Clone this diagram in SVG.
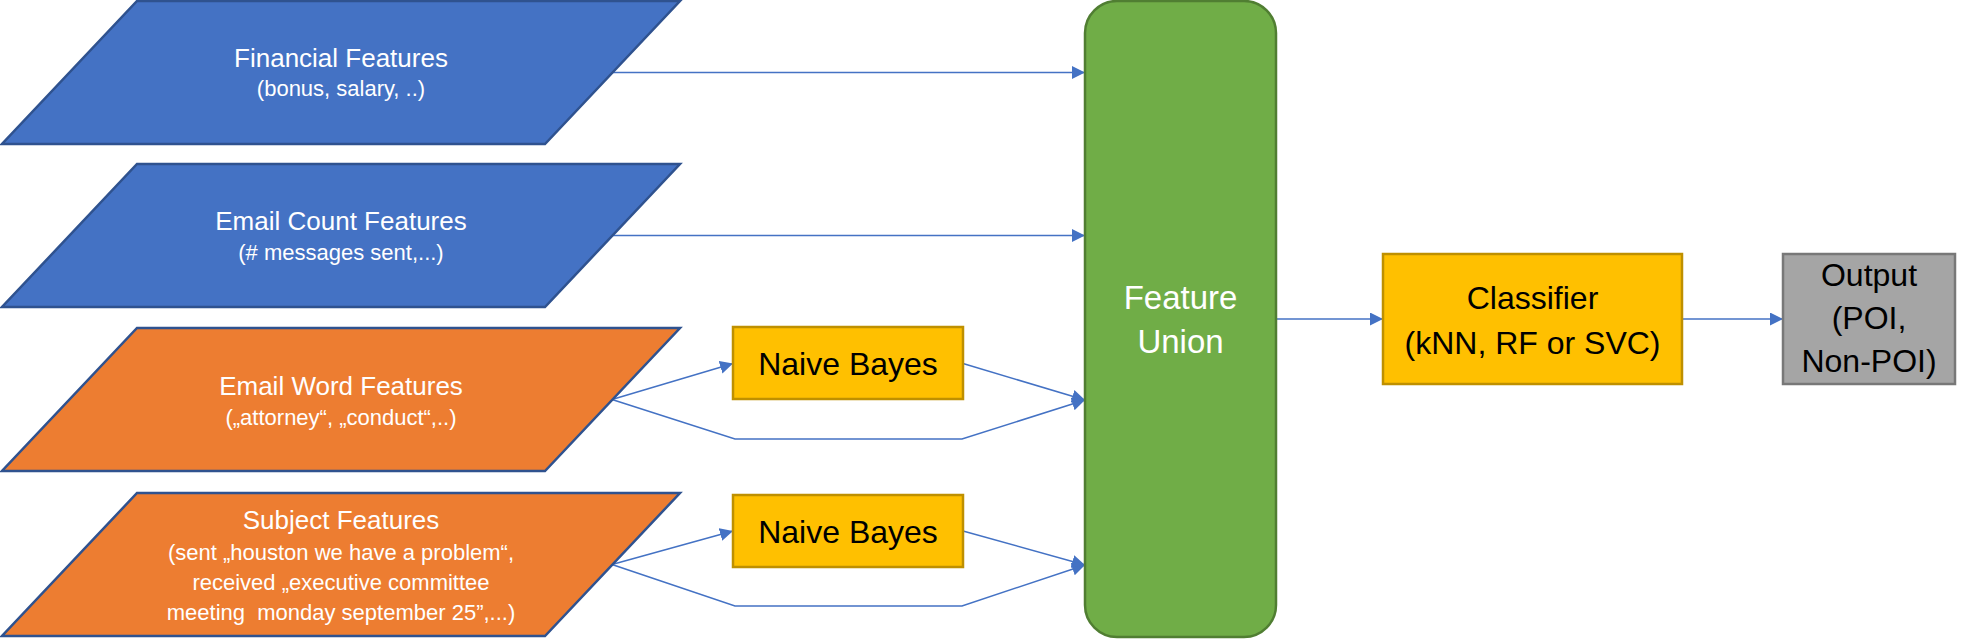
<svg xmlns="http://www.w3.org/2000/svg" width="1963" height="644" viewBox="0 0 1963 644">
<defs>
<style>
.blue{fill:#4472C4;stroke:#2F528F;stroke-width:2.5}
.orange{fill:#ED7D31;stroke:#2F528F;stroke-width:2.5}
.yellow{fill:#FFC000;stroke:#BF9000;stroke-width:2.5}
.grey{fill:#A5A5A5;stroke:#787878;stroke-width:2.5}
.green{fill:#70AD47;stroke:#507E32;stroke-width:2.5}
text{font-family:"Liberation Sans",Arial,sans-serif;text-anchor:middle}
.w{fill:#FFFFFF}
.k{fill:#000000}
.t1{font-size:26px}
.t2{font-size:22px}
.t3{font-size:32px}
.t4{font-size:33px}
.c{fill:none;stroke:#4472C4;stroke-width:1.5}
</style>
<marker id="ah" markerUnits="userSpaceOnUse" markerWidth="14" markerHeight="14" refX="13" refY="6.5" orient="auto" viewBox="0 0 14 14">
<path d="M0,0 L13,6.5 L0,13 Z" fill="#4472C4"/>
</marker>
</defs>
<rect width="1963" height="644" fill="#FFFFFF"/>

<g id="connectors">
<path class="c" d="M612,72.5 L1085,72.5" marker-end="url(#ah)"/>
<path class="c" d="M612,235.5 L1085,235.5" marker-end="url(#ah)"/>
<path class="c" d="M612,399.5 L733,363.5" marker-end="url(#ah)"/>
<path class="c" d="M612,399.5 L735,439 L962,439 L1085,400" marker-end="url(#ah)"/>
<path class="c" d="M963,363.5 L1085,400" marker-end="url(#ah)"/>
<path class="c" d="M612,564.5 L733,531" marker-end="url(#ah)"/>
<path class="c" d="M612,564.5 L735,606 L962,606 L1085,565" marker-end="url(#ah)"/>
<path class="c" d="M963,531 L1085,565" marker-end="url(#ah)"/>
<path class="c" d="M1276,319 L1383,319" marker-end="url(#ah)"/>
<path class="c" d="M1682,319 L1783,319" marker-end="url(#ah)"/>
</g>

<g id="financial">
<path class="blue" d="M137,1 L680,1 L545,144 L2,144 Z"/>
<text class="w t1" x="341" y="67">Financial Features</text>
<text class="w t2" x="341" y="96">(bonus, salary, ..)</text>
</g>

<g id="emailcount">
<path class="blue" d="M137,164 L680,164 L545,307 L2,307 Z"/>
<text class="w t1" x="341" y="230">Email Count Features</text>
<text class="w t2" x="341" y="260">(# messages sent,...)</text>
</g>

<g id="emailword">
<path class="orange" d="M137,328 L680,328 L545,471 L2,471 Z"/>
<text class="w t1" x="341" y="395">Email Word Features</text>
<text class="w t2" x="341" y="425">(„attorney“, „conduct“,..)</text>
</g>

<g id="subject">
<path class="orange" d="M137,493 L680,493 L545,636 L2,636 Z"/>
<text class="w t1" x="341" y="529">Subject Features</text>
<text class="w t2" x="341" y="560">(sent „houston we have a problem“,</text>
<text class="w t2" x="341" y="590">received „executive committee</text>
<text class="w t2" x="341" y="620" style="white-space:pre">meeting  monday september 25”,...)</text>
</g>

<g id="nb1">
<rect class="yellow" x="733" y="327" width="230" height="72"/>
<text class="k t3" x="848" y="375">Naive Bayes</text>
</g>

<g id="nb2">
<rect class="yellow" x="733" y="495" width="230" height="72"/>
<text class="k t3" x="848" y="543">Naive Bayes</text>
</g>

<g id="featureunion">
<rect class="green" x="1085" y="1" width="191" height="636" rx="32" ry="32"/>
<text class="w t4" x="1180.5" y="309">Feature</text>
<text class="w t4" x="1180.5" y="353">Union</text>
</g>

<g id="classifier">
<rect class="yellow" x="1383" y="254" width="299" height="130"/>
<text class="k t3" x="1532.5" y="309">Classifier</text>
<text class="k t3" x="1532.5" y="354">(kNN, RF or SVC)</text>
</g>

<g id="output">
<rect class="grey" x="1783" y="254" width="172" height="130"/>
<text class="k t3" x="1869" y="286">Output</text>
<text class="k t3" x="1869" y="329">(POI,</text>
<text class="k t3" x="1869" y="372">Non-POI)</text>
</g>
</svg>
